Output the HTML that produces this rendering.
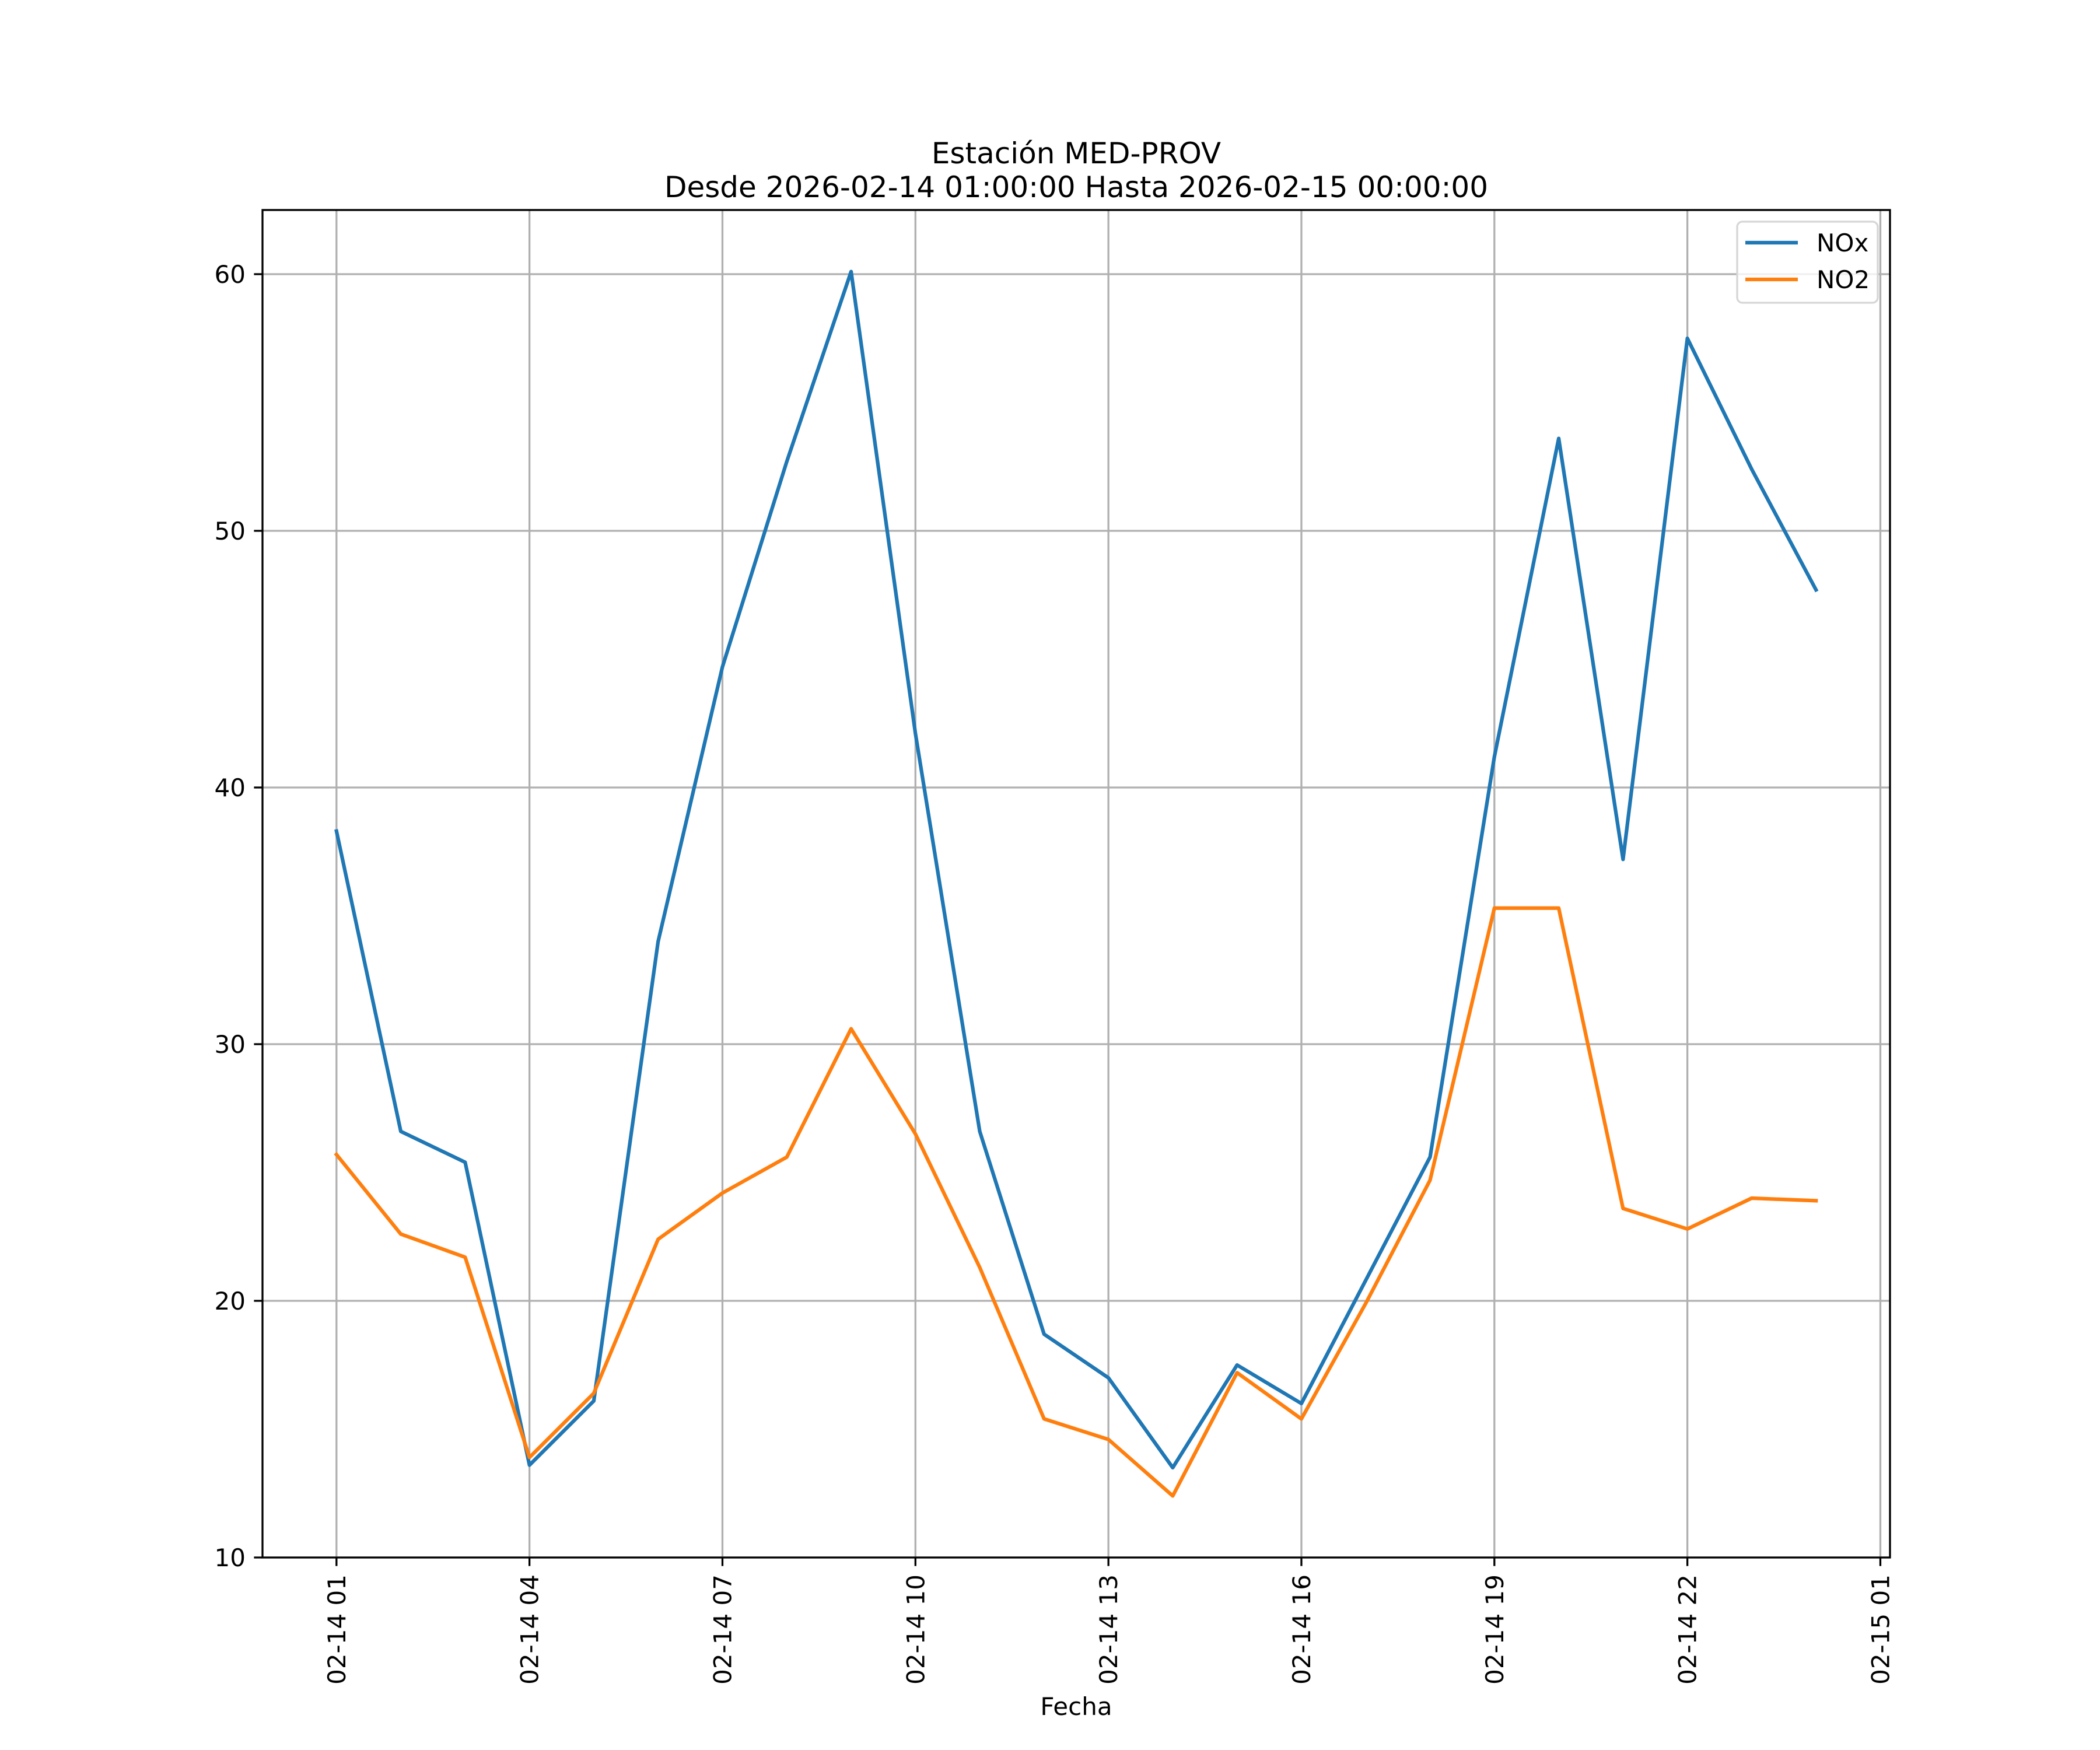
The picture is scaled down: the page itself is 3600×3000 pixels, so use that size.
<!DOCTYPE html>
<html><head><meta charset="utf-8"><style>
html,body{margin:0;padding:0;background:#fff;}
svg{display:block;font-family:"DejaVu Sans","Liberation Sans",sans-serif;}
</style></head><body>
<svg id="chart" width="3600" height="3000" viewBox="0 0 3600 3000" xmlns="http://www.w3.org/2000/svg">
<rect x="0" y="0" width="3600" height="3000" fill="#fff"/>
<g id="grid"></g>
<g id="series"></g>
<rect x="450" y="360" width="2790" height="2310" fill="none" stroke="#000" stroke-width="3.3"/>
<g id="ticks"></g>
<text x="1845" y="280" font-size="50" text-anchor="middle">Estación MED-PROV</text>
<text x="1845" y="338" font-size="50" text-anchor="middle">Desde 2026-02-14 01:00:00 Hasta 2026-02-15 00:00:00</text>
<text x="1845" y="2940" font-size="42" text-anchor="middle">Fecha</text>
<g>
<rect x="2978" y="380" width="241" height="139" rx="9" fill="#fff" fill-opacity="0.8" stroke="#d6d6d6" stroke-width="3.3"/>
<line x1="2992" y1="416" x2="3082" y2="416" stroke="#1f77b4" stroke-width="6.25"/>
<text x="3114" y="431" font-size="42">NOx</text>
<line x1="2992" y1="479" x2="3082" y2="479" stroke="#ff7f0e" stroke-width="6.25"/>
<text x="3114" y="494" font-size="42">NO2</text>
</g>
</svg>
<script>
const hours = [1,2,3,4,5,6,7,8,9,10,11,12,13,14,15,16,17,18,19,20,21,22,23,24];
const noxValues = [38.3,26.6,25.4,13.6,16.1,34.0,44.7,52.7,60.1,42.1,26.6,18.7,17.0,13.5,17.5,16.0,20.8,25.6,41.2,53.6,37.2,57.5,52.4,47.7];
const no2Values = [25.7,22.6,21.7,13.9,16.4,22.4,24.2,25.6,30.6,26.5,21.3,15.4,14.6,12.4,17.2,15.4,19.9,24.7,35.3,35.3,23.6,22.8,24.0,23.9];
const yTicks = [10,20,30,40,50,60];
const xTickHours = [1,4,7,10,13,16,19,22,25];
const xTickLabels = ["02-14 01","02-14 04","02-14 07","02-14 10","02-14 13","02-14 16","02-14 19","02-14 22","02-15 01"];

const NS = "http://www.w3.org/2000/svg";
const L=450,R=3240,T=360,B=2670;
const X0 = -0.15, xMax = 25.15;
const yMin=10.0, yMax=62.5;
function xs(h){return L+(h-X0)/(xMax-X0)*(R-L);}
function ys(v){return B-(v-yMin)/(yMax-yMin)*(B-T);}
function mk(tag,attrs,parent){const e=document.createElementNS(NS,tag);for(const k in attrs)e.setAttribute(k,attrs[k]);parent.appendChild(e);return e;}
const grid=document.getElementById('grid'),ticks=document.getElementById('ticks'),series=document.getElementById('series');
yTicks.forEach(v=>{
  const y=ys(v);
  const g=mk('line',{x1:L,x2:R,y1:y,y2:y,stroke:'#b0b0b0','stroke-width':3.3},grid);
  
  
  const t=mk('line',{x1:L-14.6,x2:L,y1:y,y2:y,stroke:'#000','stroke-width':3.3},ticks);
  
  
  const tx=mk('text',{x:L-29,y:y+15,'font-size':42,'text-anchor':'end'},ticks);
  tx.textContent=v;
  
  
});
xTickHours.forEach((h,i)=>{
  const x=xs(h);
  if(x<R-2){
    const g=mk('line',{x1:x,x2:x,y1:T,y2:B,stroke:'#b0b0b0','stroke-width':3.3},grid);
    
    
  }
  const t=mk('line',{x1:x,x2:x,y1:B,y2:B+14.6,stroke:'#000','stroke-width':3.3},ticks);
  
  
  const tx=mk('text',{x:0,y:0,'font-size':42,'text-anchor':'end',transform:`translate(${x+15},${B+29}) rotate(-90)`},ticks);
  tx.textContent=xTickLabels[i];
  
  
});
function line(vals,color,name){
  const p=mk('polyline',{points:vals.map((v,i)=>xs(hours[i])+','+ys(v)).join(' '),fill:'none',stroke:color,'stroke-width':6.25,'stroke-linejoin':'round','stroke-linecap':'square'},series);
  
  
}
line(noxValues,'#1f77b4','nox-line');
line(no2Values,'#ff7f0e','no2-line');
</script>
</body></html>
